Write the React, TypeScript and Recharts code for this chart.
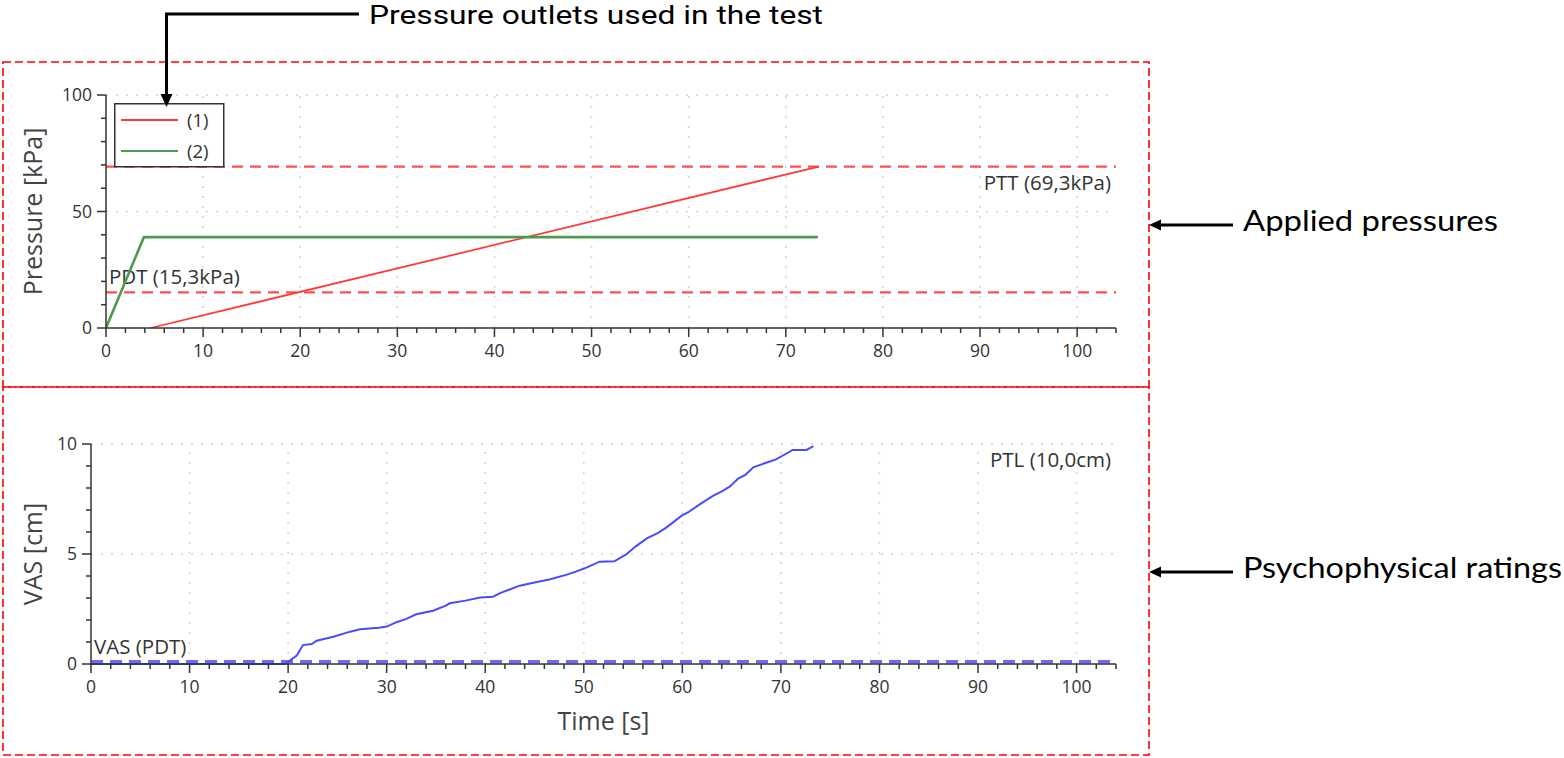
import React from 'react';
import { LineChart, Line, XAxis, YAxis, ReferenceLine, Legend } from 'recharts';

// ---------- data ----------
const timeTicks = [0, 2, 4, 6, 8, 10, 12, 14, 16, 18, 20, 22, 24, 26, 28, 30, 32, 34, 36, 38, 40, 42, 44, 46, 48, 50, 52, 54, 56, 58, 60, 62, 64, 66, 68, 70, 72, 74, 76, 78, 80, 82, 84, 86, 88, 90, 92, 94, 96, 98, 100, 102, 104];
const timeGrid = [10, 20, 30, 40, 50, 60, 70, 80, 90, 100];
const timeMajor = [0, 10, 20, 30, 40, 50, 60, 70, 80, 90, 100];
const pressureTicks = [0, 10, 20, 30, 40, 50, 60, 70, 80, 90, 100];
const pressureMajor = [0, 50, 100];
const pressureGrid = [50, 100];
const vasTicks = [0, 1, 2, 3, 4, 5, 6, 7, 8, 9, 10];
const vasMajor = [0, 5, 10];
const vasGrid = [5, 10];

const outlet1Time = [4.6, 73.4];
const outlet1Pressure = [0, 69.3];
const outlet2Time = [0, 3.9, 73.3];
const outlet2Pressure = [0, 39, 39];

const PTT = 69.3;
const PDT = 15.3;
const PTL = 10.0;
const VAS_PDT = 0.1;

const vasTime = [0, 19.7, 20.9, 21.5, 22.4, 22.9, 24.6, 26.3, 27.3, 29.2, 30.0, 31.0, 32.0, 33.0, 34.7, 36.0, 36.4, 38.0, 39.5, 40.8, 41.5, 43.5, 45.0, 46.6, 48.2, 49.2, 50.1, 51.6, 53.1, 54.3, 55.3, 56.4, 57.5, 58.4, 59.9, 60.6, 61.8, 63.1, 64.0, 64.8, 65.7, 66.4, 67.2, 68.5, 69.5, 70.3, 71.2, 72.6, 73.3];
const vasValue = [0, 0, 0.4, 0.86, 0.91, 1.06, 1.24, 1.47, 1.58, 1.65, 1.7, 1.9, 2.05, 2.26, 2.42, 2.65, 2.76, 2.88, 3.02, 3.06, 3.22, 3.56, 3.7, 3.85, 4.05, 4.2, 4.35, 4.65, 4.67, 4.98, 5.36, 5.71, 5.95, 6.21, 6.73, 6.9, 7.27, 7.64, 7.85, 8.06, 8.44, 8.6, 8.94, 9.15, 9.3, 9.5, 9.73, 9.73, 9.9];

const outlet1Data = outlet1Time.map((t, i) => ({ t, p: outlet1Pressure[i] }));
const outlet2Data = outlet2Time.map((t, i) => ({ t, p: outlet2Pressure[i] }));
const vasData = vasTime.map((t, i) => ({ t, v: vasValue[i] }));

// ---------- styles ----------
const FONT = '"Open Sans", "DejaVu Sans", sans-serif';
const AXIS = '#333';
const GRID = '#d4d4d4';

const makeXTick = (majors: number[]) => (props: any) => {
  const { x, y, payload } = props;
  const v = payload.value;
  const major = majors.includes(v);
  return (
    <g>
      <line x1={x} x2={x} y1={y} y2={y + (major ? 9 : 5)} stroke={AXIS} strokeWidth={1.5} />
      {major && (
        <text x={x} y={y + 29} textAnchor="middle" fontSize={17.5} fill="#333" fontFamily={FONT}>
          {v}
        </text>
      )}
    </g>
  );
};

const makeYTick = (majors: number[]) => (props: any) => {
  const { x, y, payload } = props;
  const v = payload.value;
  const major = majors.includes(v);
  return (
    <g>
      <line x1={x} x2={x - (major ? 9 : 5)} y1={y} y2={y} stroke={AXIS} strokeWidth={1.5} />
      {major && (
        <text x={x - 14} y={y + 6} textAnchor="end" fontSize={17.5} fill="#333" fontFamily={FONT}>
          {v}
        </text>
      )}
    </g>
  );
};

const XTick = makeXTick(timeMajor);
const PTick = makeYTick(pressureMajor);
const VTick = makeYTick(vasMajor);

const yTitle = (title: string) => (props: any) => {
  const vb = props.viewBox || {};
  const cy = vb.y + vb.height / 2;
  return (
    <text
      transform={`translate(32,${cy}) rotate(-90)`}
      textAnchor="middle"
      dominantBaseline="central"
      fontSize={25}
      fill="#444"
      fontFamily={FONT}
    >
      {title}
    </text>
  );
};

const refLabel = (text: string, where: 'belowRight' | 'aboveLeft') => (props: any) => {
  const vb = props.viewBox || {};
  if (where === 'belowRight') {
    return (
      <text x={vb.x + vb.width - 5} y={vb.y + 23} textAnchor="end" fontSize={20.5} fill="#333" fontFamily={FONT}>
        {text}
      </text>
    );
  }
  return (
    <text x={vb.x + 3} y={vb.y - 8} textAnchor="start" fontSize={20.5} fill="#333" fontFamily={FONT}>
      {text}
    </text>
  );
};

const LegendBox = (props: any) => {
  const payload = props.payload || [];
  return (
    <svg width={112} height={66} style={{ display: 'block' }}>
      <rect x={0.75} y={0.75} width={109} height={63} fill="#fff" stroke="#333" strokeWidth={1.5} />
      {payload.map((e: any, i: number) => (
        <g key={i}>
          <line x1={7} x2={64} y1={17 + i * 31} y2={17 + i * 31} stroke={e.color} strokeWidth={2} />
          <text x={73} y={17 + i * 31 + 6.5} fontSize={18.5} fill="#333" fontFamily={FONT}>
            {e.value}
          </text>
        </g>
      ))}
    </svg>
  );
};

const gridLinesX = timeGrid.map((g) => (
  <ReferenceLine key={'gx' + g} x={g} stroke={GRID} strokeWidth={1.5} strokeDasharray="2 8" />
));

const Annotations = () => (
  <svg width={1564} height={758} style={{ position: 'absolute', left: 0, top: 0, pointerEvents: 'none' }}>
    <rect x={3} y={62} width={1146} height={325} fill="none" stroke="#ff0000" strokeWidth={1.6} strokeDasharray="8 4" />
    <rect x={3} y={387} width={1146} height={368} fill="none" stroke="#ff0000" strokeWidth={1.6} strokeDasharray="8 4" />
    {/* top arrow */}
    <polyline points="359,14 166.5,14 166.5,96" fill="none" stroke="#000" strokeWidth={3} />
    <polygon points="160.5,94 172.5,94 166.5,107" fill="#000" />
    <text x={369} y={24} fontSize={25} fill="#000" fontFamily='"Roboto", sans-serif' textLength={454} lengthAdjust="spacingAndGlyphs">
      Pressure outlets used in the test
    </text>
    {/* applied pressures */}
    <line x1={1233} x2={1158} y1={225} y2={225} stroke="#000" strokeWidth={3} />
    <polygon points="1149,225 1161,219.5 1161,230.5" fill="#000" />
    <text x={1243} y={231} fontSize={29} fill="#000" fontFamily='"Lato", sans-serif' textLength={255} lengthAdjust="spacingAndGlyphs">
      Applied pressures
    </text>
    {/* psychophysical */}
    <line x1={1233} x2={1158} y1={572} y2={572} stroke="#000" strokeWidth={3} />
    <polygon points="1149,572 1161,566.5 1161,577.5" fill="#000" />
    <text x={1243} y={578} fontSize={29} fill="#000" fontFamily='"Lato", sans-serif' textLength={319} lengthAdjust="spacingAndGlyphs">
      Psychophysical ratings
    </text>
  </svg>
);

export default function App() {
  return (
    <div style={{ position: 'absolute', left: 0, top: 0, width: 1564, height: 758, background: '#fff', overflow: 'hidden' }}>
      <div style={{ position: 'absolute', left: 0, top: 0 }}>
        <LineChart width={1564} height={390} margin={{ top: 95, right: 448, left: 46, bottom: 22 }}>
          <XAxis
            type="number"
            dataKey="t"
            domain={[0, 104]}
            ticks={timeTicks}
            interval={0}
            tickSize={0}
            tickMargin={0}
            tickLine={false}
            tick={XTick}
            axisLine={{ stroke: AXIS, strokeWidth: 1.5 }}
            height={40}
            allowDataOverflow
          />
          <YAxis
            type="number"
            domain={[0, 100]}
            ticks={pressureTicks}
            interval={0}
            tickSize={0}
            tickMargin={0}
            tickLine={false}
            tick={PTick}
            axisLine={{ stroke: AXIS, strokeWidth: 1.5 }}
            width={60}
            label={{ content: yTitle('Pressure [kPa]') } as any}
          />
          {gridLinesX}
          {pressureGrid.map((g) => (
            <ReferenceLine key={'gy' + g} y={g} stroke={GRID} strokeWidth={1.5} strokeDasharray="2 8" />
          ))}
          <ReferenceLine y={PTT} stroke="#ff5050" strokeWidth={2.2} strokeDasharray="11 7" label={{ content: refLabel('PTT (69,3kPa)', 'belowRight') } as any} />
          <ReferenceLine y={PDT} stroke="#ff5050" strokeWidth={2.2} strokeDasharray="11 7" label={{ content: refLabel('PDT (15,3kPa)', 'aboveLeft') } as any} />
          <Line data={outlet1Data} dataKey="p" name="(1)" type="linear" stroke="#ff3b3b" strokeWidth={1.8} dot={false} isAnimationActive={false} />
          <Line data={outlet2Data} dataKey="p" name="(2)" type="linear" stroke="#4f9a4f" strokeWidth={2.6} dot={false} isAnimationActive={false} />
          <Legend
            layout="vertical"
            align="center"
            verticalAlign="middle"
            content={LegendBox}
            wrapperStyle={{ left: 114, top: 103, width: 112, height: 66 }}
          />
        </LineChart>
      </div>
      <div style={{ position: 'absolute', left: 0, top: 390 }}>
        <LineChart width={1564} height={368} margin={{ top: 54, right: 448, left: 31, bottom: 54 }}>
          <XAxis
            type="number"
            dataKey="t"
            domain={[0, 104]}
            ticks={timeTicks}
            interval={0}
            tickSize={0}
            tickMargin={0}
            tickLine={false}
            tick={XTick}
            axisLine={{ stroke: AXIS, strokeWidth: 1.5 }}
            height={40}
            allowDataOverflow
            label={{ value: 'Time [s]', position: 'bottom', offset: 8, fontSize: 25, fill: '#444', fontFamily: FONT } as any}
          />
          <YAxis
            type="number"
            domain={[0, 10]}
            ticks={vasTicks}
            interval={0}
            tickSize={0}
            tickMargin={0}
            tickLine={false}
            tick={VTick}
            axisLine={{ stroke: AXIS, strokeWidth: 1.5 }}
            width={60}
            label={{ content: yTitle('VAS [cm]') } as any}
          />
          {gridLinesX}
          {vasGrid.map((g) => (
            <ReferenceLine key={'vy' + g} y={g} stroke={GRID} strokeWidth={1.5} strokeDasharray="2 8" />
          ))}
          <ReferenceLine y={PTL} stroke="none" label={{ content: refLabel('PTL (10,0cm)', 'belowRight') } as any} />
          <ReferenceLine y={VAS_PDT} stroke="#6a6aff" strokeWidth={3.5} strokeDasharray="12 7" label={{ content: refLabel('VAS (PDT)', 'aboveLeft') } as any} />
          <Line data={vasData} dataKey="v" type="linear" stroke="#4a4aff" strokeWidth={2} dot={false} isAnimationActive={false} />
        </LineChart>
      </div>
      <Annotations />
    </div>
  );
}
